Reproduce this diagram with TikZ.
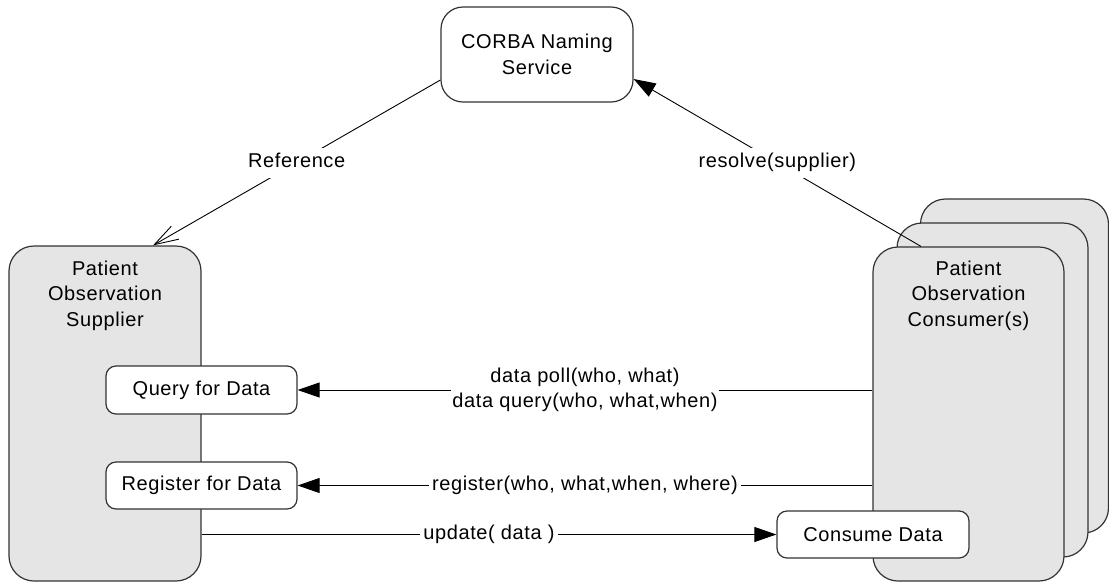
\documentclass[tikz,border=0pt]{standalone}
\usepackage{fontspec}
\setmainfont{Liberation Sans}[LetterSpace=3]
\usetikzlibrary{arrows.meta,calc}
\tikzset{
  txt/.style={font=\fontsize{20}{25.5}\selectfont, align=center},
  bigbox/.style={draw=black!80, line width=1.2pt, fill=black!10, rounded corners=25pt, inner sep=0pt},
  smallbox/.style={draw=black!80, line width=1.2pt, fill=white, rounded corners=10pt, txt, inner sep=0pt, minimum width=191pt, minimum height=47pt},
  conn/.style={draw=black, line width=0.9pt},
  filltip/.style={-{Triangle[length=22pt,width=15pt]}},
  opentip/.style={-{Straight Barb[length=24pt,width=15pt]}},
  lab/.style={txt, fill=white, inner xsep=3pt, inner ysep=5pt, text height=15pt, text depth=5pt},
  lab2/.style={txt, fill=white, inner xsep=1pt, inner ysep=2pt},
}
\begin{document}
\begin{tikzpicture}[x=1pt,y=-1pt]
\useasboundingbox (0,0) rectangle (1109,582);
% consumer stack
\node[bigbox, minimum width=188pt, minimum height=334pt] (cons3) at (1014.5,366) {};
\node[bigbox, minimum width=191pt, minimum height=334pt] (cons2) at (992.5,390) {};
\node[bigbox, minimum width=191pt, minimum height=334pt] (cons) at (968.5,414) {};
\node[txt] (conslbl) at ([yshift=-49pt]cons.north) {Patient\\Observation\\Consumer(s)};
% supplier
\node[bigbox, minimum width=192pt, minimum height=335pt] (sup) at (105,413.5) {};
\node[txt] (suplbl) at ([yshift=-50pt]sup.north) {Patient\\Observation\\Supplier};
% naming service
\node[draw=black!80, line width=1.2pt, fill=white, rounded corners=22pt, txt, minimum width=192pt, minimum height=95pt, inner sep=0pt] (corba) at (537,54.5) {CORBA Naming\\Service};
% inner boxes
\node[smallbox, minimum height=48pt] (query) at (201.5,390) {Query for Data};
\node[smallbox] (reg) at (201.5,485.5) {Register for Data};
\node[smallbox, minimum width=192pt] (consume) at (873,534.5) {Consume Data};
% connectors
\draw[conn, opentip] ([yshift=-25.5pt]corba.west) -- node[lab] (reflbl) {Reference} ([xshift=48pt]sup.north);
\draw[conn, filltip] ([xshift=-47.5pt]cons.north) -- node[lab] (reslbl) {resolve(supplier)} ([yshift=-24.5pt]corba.east);
\draw[conn, filltip] (cons.west |- query.east) -- node[lab2] (qlbl) {data poll(who, what)\\data query(who, what,when)} (query.east);
\draw[conn, filltip] (cons.west |- reg.east) -- node[lab] (rlbl) {register(who, what,when, where)} (reg.east);
\draw[conn, filltip] (sup.east |- consume.west) -- node[lab] (ulbl) {update( data )} (consume.west);
\end{tikzpicture}
\end{document}
